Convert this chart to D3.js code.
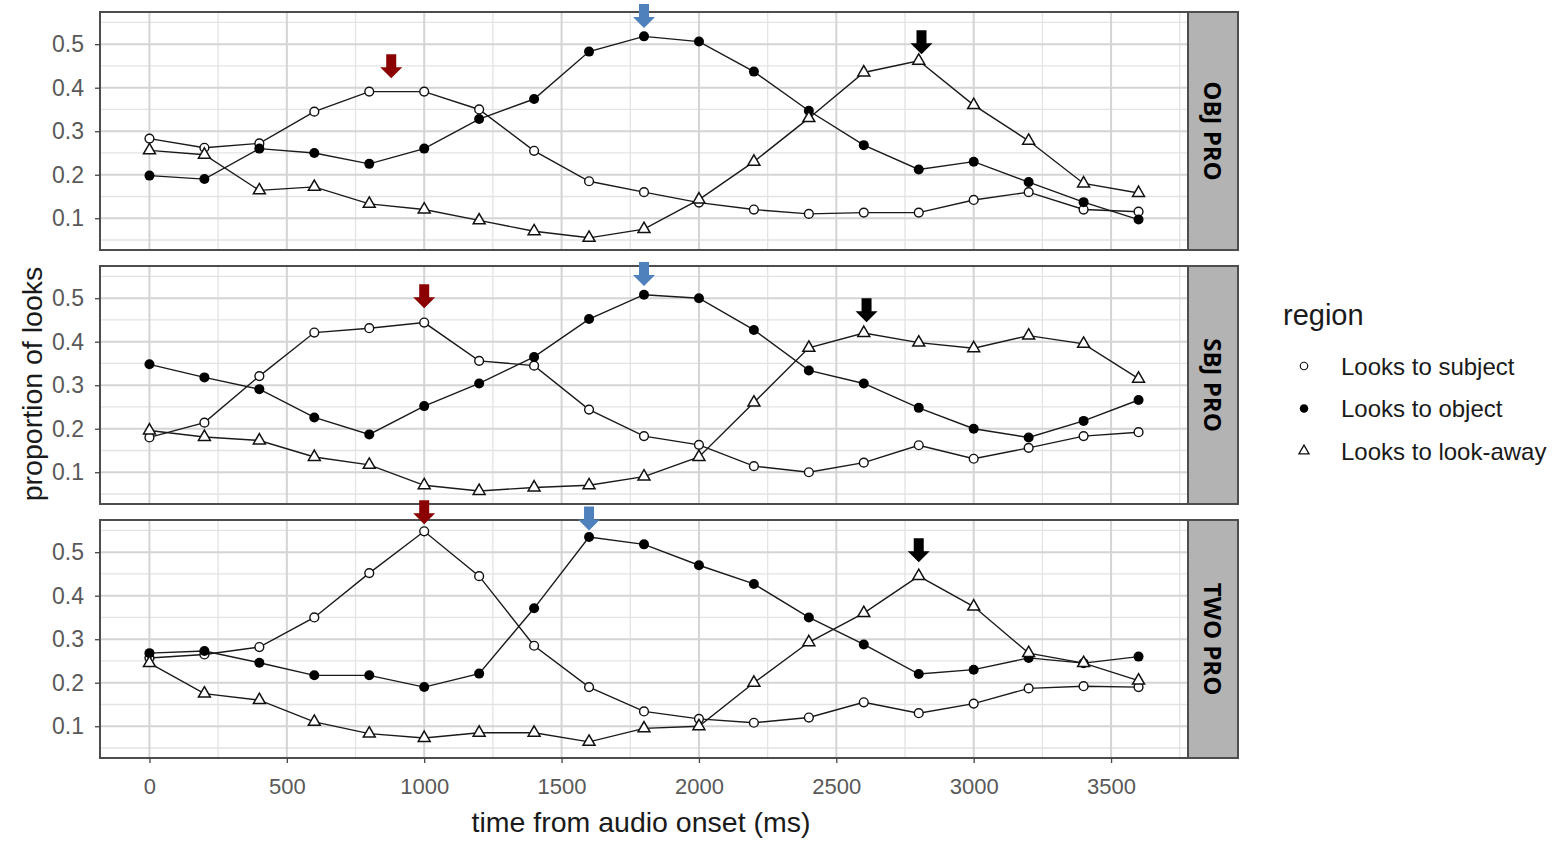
<html lang="en">
<head>
<meta charset="utf-8">
<title>proportion of looks</title>
<style>
  body { margin: 0; background: white; }
  svg text { font-family: "Liberation Sans", Arial, sans-serif; }
  .tick text { fill: #595959; font-size: 23px; }
  .xaxis .tick text { font-size: 22px; }
  .tick line { stroke: #444444; stroke-width: 1.3; }
  .strip text { font-family: "Open Sans", sans-serif; font-weight: 700; font-size: 24px; }
</style>
</head>
<body>
<div id="chart"></div>
<script src="https://d3js.org/d3.v7.min.js"></script>
<script>
// ---- data ----
var times = [0,200,400,600,800,1000,1200,1400,1600,1800,2000,2200,2400,2600,2800,3000,3200,3400,3600];
var panels = ["OBJ PRO", "SBJ PRO", "TWO PRO"];
var regions = ["Looks to subject", "Looks to object", "Looks to look-away"];

var objSubject  = [0.283,0.262,0.272,0.345,0.391,0.391,0.35,0.255,0.185,0.16,0.136,0.12,0.11,0.113,0.113,0.142,0.16,0.12,0.115];
var objObject   = [0.198,0.19,0.26,0.25,0.225,0.26,0.328,0.374,0.483,0.518,0.506,0.437,0.347,0.268,0.212,0.23,0.183,0.137,0.097];
var objAway     = [0.256,0.246,0.164,0.172,0.133,0.12,0.095,0.07,0.055,0.075,0.143,0.23,0.33,0.435,0.462,0.36,0.278,0.18,0.158];

var sbjSubject  = [0.18,0.214,0.321,0.421,0.431,0.444,0.356,0.345,0.244,0.183,0.163,0.114,0.1,0.122,0.162,0.131,0.156,0.183,0.192];
var sbjObject   = [0.348,0.318,0.291,0.226,0.187,0.252,0.304,0.365,0.452,0.508,0.5,0.427,0.334,0.304,0.248,0.2,0.18,0.218,0.266];
var sbjAway     = [0.196,0.181,0.173,0.135,0.117,0.07,0.057,0.065,0.07,0.09,0.135,0.26,0.386,0.42,0.398,0.385,0.414,0.395,0.315];

var twoSubject  = [0.257,0.265,0.282,0.35,0.452,0.548,0.445,0.285,0.19,0.134,0.117,0.108,0.12,0.155,0.13,0.152,0.187,0.192,0.19];
var twoObject   = [0.268,0.273,0.246,0.217,0.217,0.19,0.221,0.371,0.535,0.518,0.47,0.427,0.35,0.288,0.22,0.23,0.257,0.245,0.26];
var twoAway     = [0.245,0.175,0.16,0.11,0.083,0.073,0.085,0.085,0.064,0.095,0.1,0.2,0.293,0.36,0.445,0.375,0.268,0.245,0.205];

var xTicks = [0,500,1000,1500,2000,2500,3000,3500];
var yTicks = [0.1,0.2,0.3,0.4,0.5];

// arrows: panel index, time, value at the arrow tip, colour
var arrowPanel = [0,0,0,1,1,1,2,2,2];
var arrowTime  = [880,1800,2810,1000,1800,2610,1000,1600,2800];
var arrowTip   = [0.422,0.537,0.477,0.477,0.528,0.445,0.564,0.55,0.477];
var arrowColor = ["#8b0000","#4f81bd","#000000","#8b0000","#4f81bd","#000000","#8b0000","#4f81bd","#000000"];

var series = [
  [objSubject, objObject, objAway],
  [sbjSubject, sbjObject, sbjAway],
  [twoSubject, twoObject, twoAway]
];

// ---- layout ----
var width = 1564, height = 842;
var panelLeft = 100, panelRight = 1188, stripW = 50;
var panelTop = [12, 266, 520], panelH = 238;

var svg = d3.select("#chart").append("svg")
  .attr("width", width).attr("height", height);

var x = d3.scaleLinear().domain([-180, 3780]).range([panelLeft, panelRight]);

var triangle = d3.symbol().type(d3.symbolTriangle).size(62);

function drawMarker(sel, r) {
  if (r === 0) {
    sel.append("circle").attr("r", 4.4).attr("fill", "white").attr("stroke", "#111").attr("stroke-width", 1.4);
  } else if (r === 1) {
    sel.append("circle").attr("r", 5).attr("fill", "#000");
  } else {
    sel.append("path").attr("d", triangle).attr("fill", "white").attr("stroke", "#111").attr("stroke-width", 1.5);
  }
}

// block arrow pointing down, tip at origin
var arrowPath = "M-5,-24 L5,-24 L5,-11 L11,-11 L0,0 L-11,-11 L-5,-11 Z";

panels.forEach(function(name, p) {
  var top = panelTop[p];
  var y = d3.scaleLinear().domain([0.027, 0.574]).range([top + panelH, top]);
  var g = svg.append("g");

  // minor grid
  g.selectAll(".minx").data(d3.range(250, 3780, 500)).enter().append("line")
    .attr("x1", x).attr("x2", x).attr("y1", top).attr("y2", top + panelH)
    .attr("stroke", "#e3e3e3").attr("stroke-width", 1.3);
  g.selectAll(".miny").data([0.05,0.15,0.25,0.35,0.45,0.55]).enter().append("line")
    .attr("x1", panelLeft).attr("x2", panelRight).attr("y1", y).attr("y2", y)
    .attr("stroke", "#e3e3e3").attr("stroke-width", 1.3);
  // major grid
  g.selectAll(".majx").data(xTicks).enter().append("line")
    .attr("x1", x).attr("x2", x).attr("y1", top).attr("y2", top + panelH)
    .attr("stroke", "#d4d4d4").attr("stroke-width", 2);
  g.selectAll(".majy").data(yTicks).enter().append("line")
    .attr("x1", panelLeft).attr("x2", panelRight).attr("y1", y).attr("y2", y)
    .attr("stroke", "#d4d4d4").attr("stroke-width", 2);

  var line = d3.line().x(function(d, i) { return x(times[i]); }).y(function(d) { return y(d); });

  series[p].forEach(function(vals, r) {
    g.append("path").datum(vals).attr("d", line)
      .attr("fill", "none").attr("stroke", "#1a1a1a").attr("stroke-width", 1.4);
  });
  series[p].forEach(function(vals, r) {
    g.selectAll(".pt" + r).data(vals).enter().append("g")
      .attr("transform", function(d, i) { return "translate(" + x(times[i]) + "," + y(d) + ")"; })
      .each(function() { drawMarker(d3.select(this), r); });
  });

  // panel border
  g.append("rect").attr("x", panelLeft).attr("y", top).attr("width", panelRight - panelLeft).attr("height", panelH)
    .attr("fill", "none").attr("stroke", "#4d4d4d").attr("stroke-width", 2);

  // strip
  var strip = g.append("g").attr("class", "strip");
  strip.append("rect").attr("x", panelRight).attr("y", top).attr("width", stripW).attr("height", panelH)
    .attr("fill", "#b3b3b3").attr("stroke", "#4d4d4d").attr("stroke-width", 2);
  strip.append("text")
    .attr("transform", "translate(" + (panelRight + stripW / 2) + "," + (top + panelH / 2) + ") rotate(90)")
    .attr("text-anchor", "middle").attr("dy", "0.36em").attr("fill", "#000").text(name);

  // y axis
  var ya = g.append("g").attr("transform", "translate(" + panelLeft + ",0)")
    .call(d3.axisLeft(y).tickValues(yTicks).tickSize(5).tickPadding(11).tickFormat(d3.format(".1f")));
  ya.select(".domain").remove();

  // arrows
  arrowPanel.forEach(function(ap, i) {
    if (ap !== p) return;
    g.append("path").attr("d", arrowPath)
      .attr("transform", "translate(" + x(arrowTime[i]) + "," + y(arrowTip[i]) + ")")
      .attr("fill", arrowColor[i]);
  });

  if (p === panels.length - 1) {
    var xa = g.append("g").attr("class", "xaxis").attr("transform", "translate(0," + (top + panelH) + ")")
      .call(d3.axisBottom(x).tickValues(xTicks).tickSize(5).tickPadding(15).tickFormat(d3.format("d")));
    xa.select(".domain").remove();
  }
});

// axis titles
svg.append("text").attr("x", 641).attr("y", 832)
  .attr("text-anchor", "middle").attr("font-size", 28.5).attr("fill", "#1a1a1a")
  .text("time from audio onset (ms)");
svg.append("text").attr("transform", "translate(42,384) rotate(-90)")
  .attr("text-anchor", "middle").attr("font-size", 28.5).attr("fill", "#1a1a1a")
  .text("proportion of looks");

// legend
var legend = svg.append("g");
legend.append("text").attr("x", 1283).attr("y", 325).attr("font-size", 29).attr("fill", "#1a1a1a").text("region");
regions.forEach(function(r, i) {
  var row = legend.append("g").attr("transform", "translate(1304," + (366 + i * 42.5) + ")");
  var m = row.append("g").attr("transform", "scale(0.85)");
  drawMarker(m, i);
  row.append("text").attr("x", 37).attr("dy", "0.36em").attr("font-size", 24).attr("fill", "#1a1a1a").text(r);
});
</script>
</body>
</html>
